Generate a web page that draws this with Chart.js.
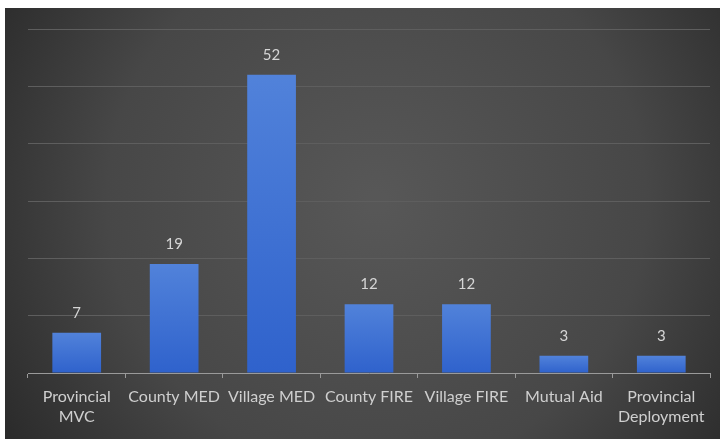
<!DOCTYPE html>
<html>
<head>
<meta charset="utf-8">
<script src="https://cdn.jsdelivr.net/npm/chart.js@4/dist/chart.umd.min.js"></script>
<style>
  html,body{margin:0;padding:0;background:#fff;}
  #wrap{position:absolute;left:5px;top:8px;width:715px;height:431px;}
</style>
</head>
<body>
<div id="wrap"><canvas id="callsChart"></canvas></div>
<script>
const categories=[['Provincial','MVC'],'County MED','Village MED','County FIRE','Village FIRE','Mutual Aid',['Provincial','Deployment']];
const calls=[7,19,52,12,12,3,3];
const yTicks={min:0,max:60,step:10};

(function(){
  // dark radial backdrop like the slide
  const backdrop={id:'backdrop',beforeDraw(chart){
    const {ctx,width,height}=chart;
    const g=ctx.createRadialGradient(width*0.52,height*0.45,10,width*0.52,height*0.45,width*0.62);
    g.addColorStop(0,'#575757');
    g.addColorStop(0.6,'#474747');
    g.addColorStop(1,'#2a2a2a');
    ctx.save();ctx.fillStyle=g;ctx.fillRect(0,0,width,height);ctx.restore();
  }};
  // value labels over bars
  const valueLabels={id:'valueLabels',afterDatasetsDraw(chart){
    const {ctx}=chart;
    const meta=chart.getDatasetMeta(0);
    ctx.save();
    ctx.fillStyle='#d6d6d6';
    ctx.font='15px Lato, "Open Sans", sans-serif';
    ctx.textAlign='center';ctx.textBaseline='middle';
    meta.data.forEach((bar,i)=>{
      ctx.fillText(String(chart.data.datasets[0].data[i]),bar.x,bar.y-20);
    });
    ctx.restore();
  }};

  const ctx=document.getElementById('callsChart').getContext('2d');
  new Chart(ctx,{
    type:'bar',
    data:{labels:categories,datasets:[{
      data:calls,
      backgroundColor(c){
        const ch=c.chart;
        if(!ch.chartArea) return '#3d6fd0';
        const y=ch.scales.y;
        const v=c.raw||0;
        const top=y.getPixelForValue(v), bot=y.getPixelForValue(0);
        const g=ch.ctx.createLinearGradient(0,top,0,bot);
        g.addColorStop(0,'#5182da');
        g.addColorStop(1,'#2f62cc');
        return g;
      },
      borderWidth:0,
      barPercentage:0.5,
      categoryPercentage:1
    }]},
    options:{
      responsive:true,maintainAspectRatio:false,animation:false,
      layout:{padding:{top:21,left:23,right:10,bottom:0}},
      plugins:{legend:{display:false},tooltip:{enabled:false}},
      scales:{
        y:{display:true,min:yTicks.min,max:yTicks.max,
          ticks:{display:false,stepSize:yTicks.step},
          grid:{color:'#5e5e5e',lineWidth:1,drawTicks:false},
          border:{display:false}},
        x:{
          grid:{display:true,drawOnChartArea:false,offset:true,tickLength:5,color:'#9a9a9a'},
          border:{display:true,color:'#9a9a9a',width:1},
          ticks:{color:'#cfcfcf',padding:9,maxRotation:0,autoSkip:false,
            font:{family:'Lato, "Open Sans", sans-serif',size:16,lineHeight:1.25}},
          afterFit(scale){scale.height=66;}
        }
      }
    },
    plugins:[backdrop,valueLabels]
  });
})();
</script>
</body>
</html>
